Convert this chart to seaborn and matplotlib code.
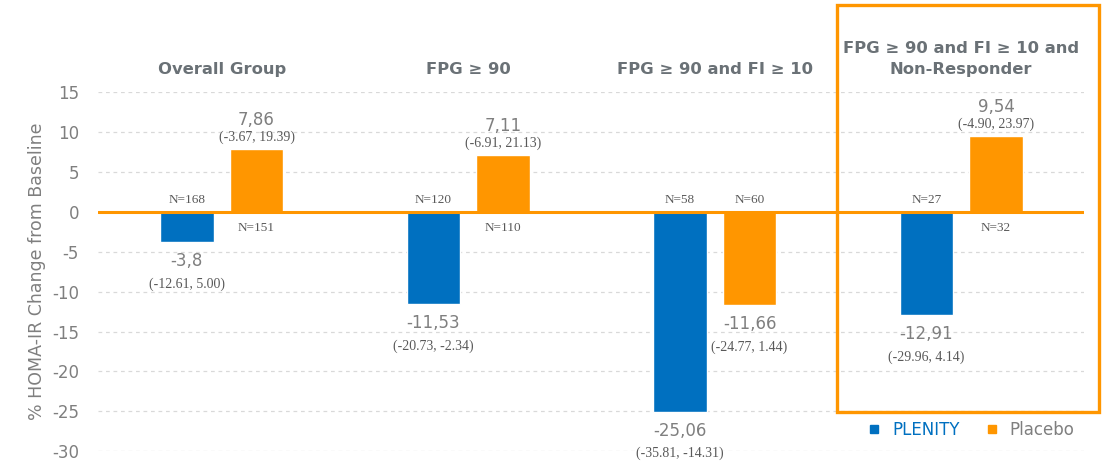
import matplotlib.pyplot as plt
import matplotlib.patches as mpatches
import pandas as pd
import seaborn as sns

# Chart data
groups = ['Overall Group', 'FPG ≥ 90', 'FPG ≥ 90 and FI ≥ 10',
          'FPG ≥ 90 and FI ≥ 10 and\nNon-Responder']
plenity = [-3.80, -11.53, -25.06, -12.91]
placebo = [7.86, 7.11, -11.66, 9.54]
plenity_text = ['-3,8', '-11,53', '-25,06', '-12,91']
placebo_text = ['7,86', '7,11', '-11,66', '9,54']
plenity_ci = ['(-12.61, 5.00)', '(-20.73, -2.34)', '(-35.81, -14.31)', '(-29.96, 4.14)']
placebo_ci = ['(-3.67, 19.39)', '(-6.91, 21.13)', '(-24.77, 1.44)', '(-4.90, 23.97)']
plenity_n = [168, 120, 58, 27]
placebo_n = [151, 110, 60, 32]
arms = ['PLENITY', 'Placebo']

blue = '#0070C0'
orange = '#FF9600'
gray = '#7F7F7F'
title_gray = '#6A7176'

# Long-format table for seaborn
df = pd.DataFrame({
    'group': groups * 2,
    'value': plenity + placebo,
    'arm': [arms[0]] * len(groups) + [arms[1]] * len(groups),
})

sns.set_style('white')
plt.rcParams['font.family'] = ['DejaVu Sans']
plt.rcParams['axes.unicode_minus'] = False

fig = plt.figure(figsize=(11.05, 4.62), dpi=100)
ax = fig.add_axes([0.0891, 0.0238, 0.8923, 0.776])

sns.barplot(data=df, x='group', y='value', hue='arm', hue_order=arms,
            palette=[blue, orange], width=0.565, gap=0.23, ax=ax,
            saturation=1, legend=True)

ax.set_xlim(-0.5, 3.5)
ax.set_ylim(-30, 15)
ax.set_yticks(range(-30, 16, 5))
ax.yaxis.grid(True, color='#D9D9D9', linestyle=(0, (3, 3)), linewidth=0.9)
ax.set_axisbelow(True)
ax.axhline(0, color=orange, linewidth=2.2, zorder=1.5)
sns.despine(ax=ax, left=True, bottom=True)

ax.set_xticks([])
ax.set_xlabel('')
ax.set_ylabel('% HOMA-IR Change from Baseline', fontsize=12.5, color=gray, labelpad=4)
ax.tick_params(axis='y', length=0, pad=14, labelsize=12, labelcolor=gray)

# Group titles above each pair of bars
for i, g in enumerate(groups):
    ax.text(i, 17.0, g, ha='center', va='bottom', fontsize=11.8,
            fontweight='bold', color=title_gray, linespacing=1.5, clip_on=False)

# Value, CI and N labels
serif = 'Liberation Serif'
txt_dark = '#595959'
series = [(plenity_text, plenity_ci, plenity_n), (placebo_text, placebo_ci, placebo_n)]
for container, (vals, cis, ns) in zip(ax.containers, series):
    for bar, v, ci, n in zip(container, vals, cis, ns):
        x = bar.get_x() + bar.get_width() / 2
        h = bar.get_height()
        if h >= 0:
            ax.annotate(v, (x, h), xytext=(0, 29), textcoords='offset pixels',
                        ha='center', va='center', fontsize=12, color=gray)
            ax.annotate(ci, (x, h), xytext=(0, 12), textcoords='offset pixels',
                        ha='center', va='center', fontsize=10, color=txt_dark,
                        family=serif)
            ax.annotate(f'N={n}', (x, 0), xytext=(0, -16), textcoords='offset pixels',
                        ha='center', va='center', fontsize=9.5, color=txt_dark,
                        family=serif)
        else:
            ax.annotate(v, (x, h), xytext=(0, -19), textcoords='offset pixels',
                        ha='center', va='center', fontsize=12, color=gray)
            ax.annotate(ci, (x, h), xytext=(0, -42), textcoords='offset pixels',
                        ha='center', va='center', fontsize=10, color=txt_dark,
                        family=serif)
            ax.annotate(f'N={n}', (x, 0), xytext=(0, 12), textcoords='offset pixels',
                        ha='center', va='center', fontsize=9.5, color=txt_dark,
                        family=serif)

# Highlight box around the last group
box = mpatches.Rectangle((2.495, -25.05), 1.065, 51.0, transform=ax.transData,
                         fill=False, edgecolor=orange, linewidth=2.4, clip_on=False,
                         zorder=5)
ax.add_patch(box)

# Legend
handles = [plt.Line2D([], [], marker='s', linestyle='', color=blue, markersize=6),
           plt.Line2D([], [], marker='s', linestyle='', color=orange, markersize=6)]
leg = ax.legend(handles, arms, loc='center', bbox_to_anchor=(0.878, 0.069),
                bbox_transform=fig.transFigure, ncol=2, frameon=False,
                fontsize=12, handletextpad=0.6, columnspacing=1.4, handlelength=1.0)
leg.get_texts()[0].set_color(blue)
leg.get_texts()[1].set_color(gray)

plt.savefig('out.png', dpi=100)
